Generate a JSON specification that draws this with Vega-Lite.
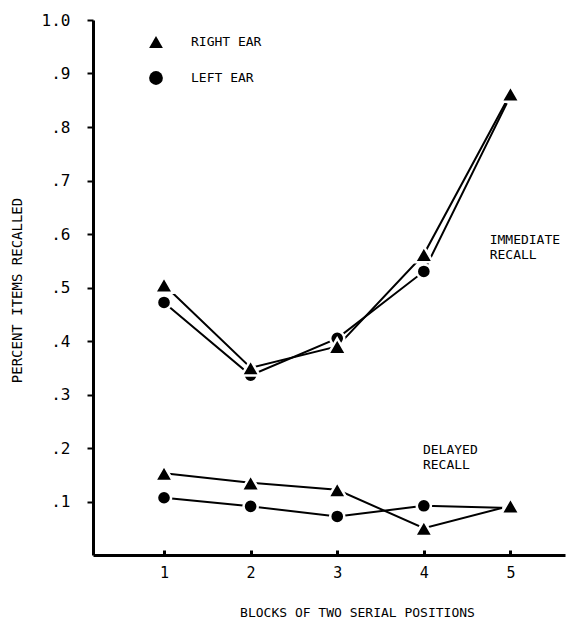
{
  "$schema": "https://vega.github.io/schema/vega-lite/v6.json",
  "autosize": "none",
  "width": 472,
  "height": 535,
  "padding": {"left": 93, "top": 20, "right": 9, "bottom": 75},
  "background": "white",
  "config": {
    "view": {"stroke": null},
    "font": "DejaVu Sans Mono",
    "axis": {"grid": false, "domainColor": "black", "tickColor": "black", "labelColor": "black", "titleColor": "black", "labelFont": "DejaVu Sans Mono", "titleFont": "DejaVu Sans Mono", "titleFontWeight": "normal"}
  },
  "datasets": {
    "recall": [
      {"block": 1, "ear": "RIGHT EAR", "cond": "Immediate", "value": 0.505},
      {"block": 2, "ear": "RIGHT EAR", "cond": "Immediate", "value": 0.35},
      {"block": 3, "ear": "RIGHT EAR", "cond": "Immediate", "value": 0.39},
      {"block": 4, "ear": "RIGHT EAR", "cond": "Immediate", "value": 0.562},
      {"block": 5, "ear": "RIGHT EAR", "cond": "Immediate", "value": 0.862},
      {"block": 1, "ear": "LEFT EAR", "cond": "Immediate", "value": 0.472},
      {"block": 2, "ear": "LEFT EAR", "cond": "Immediate", "value": 0.336},
      {"block": 3, "ear": "LEFT EAR", "cond": "Immediate", "value": 0.405},
      {"block": 4, "ear": "LEFT EAR", "cond": "Immediate", "value": 0.53},
      {"block": 5, "ear": "LEFT EAR", "cond": "Immediate", "value": 0.858},
      {"block": 1, "ear": "RIGHT EAR", "cond": "Delayed", "value": 0.153},
      {"block": 2, "ear": "RIGHT EAR", "cond": "Delayed", "value": 0.135},
      {"block": 3, "ear": "RIGHT EAR", "cond": "Delayed", "value": 0.122},
      {"block": 4, "ear": "RIGHT EAR", "cond": "Delayed", "value": 0.05},
      {"block": 5, "ear": "RIGHT EAR", "cond": "Delayed", "value": 0.092},
      {"block": 1, "ear": "LEFT EAR", "cond": "Delayed", "value": 0.107},
      {"block": 2, "ear": "LEFT EAR", "cond": "Delayed", "value": 0.091},
      {"block": 3, "ear": "LEFT EAR", "cond": "Delayed", "value": 0.072},
      {"block": 4, "ear": "LEFT EAR", "cond": "Delayed", "value": 0.092},
      {"block": 5, "ear": "LEFT EAR", "cond": "Delayed", "value": 0.088}
    ],
    "notes": [
      {"label": ["IMMEDIATE", "RECALL"], "x": 4.76, "y": 0.6},
      {"label": ["DELAYED", "RECALL"], "x": 3.99, "y": 0.208}
    ]
  },
  "layer": [
    {
      "data": {"name": "recall"},
      "mark": {"type": "line", "color": "black", "strokeWidth": 2},
      "encoding": {
        "x": {"field": "block", "type": "quantitative", "scale": {"domain": [0.18, 5.63], "nice": false, "zero": false},
          "axis": {"values": [1, 2, 3, 4, 5], "format": "d", "domainWidth": 3, "tickSize": -5, "tickWidth": 3, "labelPadding": 15, "labelFontSize": 15,
            "title": "BLOCKS OF TWO SERIAL POSITIONS", "titleFontSize": 13, "titlePadding": 26, "titleX": 264}},
        "y": {"field": "value", "type": "quantitative", "scale": {"domain": [0, 1], "nice": false},
          "axis": {"values": [0.1, 0.2, 0.3, 0.4, 0.5, 0.6, 0.7, 0.8, 0.9, 1.0], "labelExpr": "datum.value >= 1 ? '1.0' : '.' + round(datum.value * 10)",
            "domainWidth": 3, "tickSize": 6, "tickWidth": 2, "labelPadding": 17, "labelFontSize": 16,
            "title": "PERCENT ITEMS RECALLED", "titleFontSize": 14, "titleX": -76, "titleY": 270, "titleAlign": "center", "titleBaseline": "middle", "titleAngle": 270}},
        "detail": [{"field": "ear"}, {"field": "cond"}]
      }
    },
    {
      "data": {"name": "recall"},
      "mark": {"type": "point", "filled": true, "color": "black", "stroke": "white", "strokeWidth": 2.5, "opacity": 1},
      "encoding": {
        "x": {"field": "block", "type": "quantitative"},
        "y": {"field": "value", "type": "quantitative"},
        "shape": {"field": "ear", "type": "nominal", "scale": {"domain": ["RIGHT EAR", "LEFT EAR"], "range": ["triangle-up", "circle"]},
          "legend": {"title": null, "orient": "none", "legendX": 56, "legendY": 15, "symbolFillColor": "black", "symbolStrokeColor": "black", "symbolStrokeWidth": 0, "symbolSize": 190,
            "labelFont": "DejaVu Sans Mono", "labelFontSize": 13, "labelOffset": 28, "rowPadding": 22, "labelColor": "black"}},
        "size": {"condition": {"test": "datum.ear === 'RIGHT EAR'", "value": 330}, "value": 200},
        "order": {"field": "ear", "sort": "ascending"}
      }
    },
    {
      "data": {"name": "notes"},
      "mark": {"type": "text", "align": "left", "baseline": "top", "fontSize": 13, "lineHeight": 15, "color": "black", "font": "DejaVu Sans Mono"},
      "encoding": {
        "x": {"field": "x", "type": "quantitative"},
        "y": {"field": "y", "type": "quantitative"},
        "text": {"field": "label"}
      }
    }
  ]
}
